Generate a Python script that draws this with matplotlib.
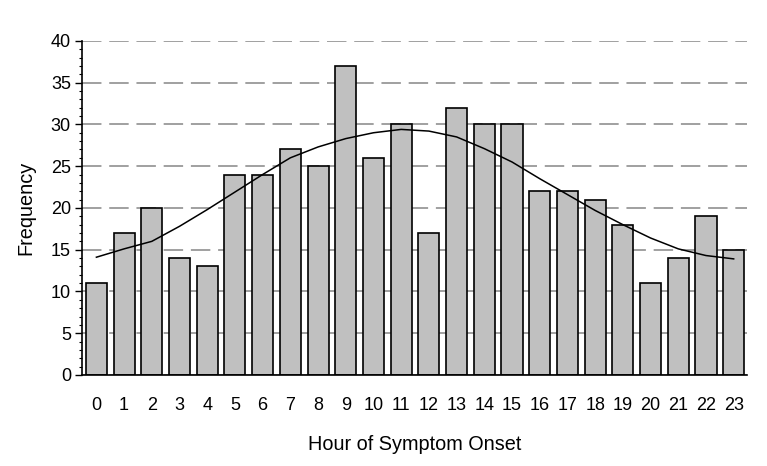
import matplotlib
matplotlib.use("Agg")
import matplotlib.pyplot as plt
from matplotlib.ticker import MultipleLocator

hours = list(range(24))
hour_labels = [str(h) for h in hours]
frequency = [11, 17, 20, 14, 13, 24, 24, 27, 25, 37, 26, 30,
             17, 32, 30, 30, 22, 22, 21, 18, 11, 14, 19, 15]
fitted = [14.1, 15.1, 16.0, 17.8, 19.8, 21.9, 24.0, 26.0, 27.3, 28.3, 29.0, 29.4,
          29.2, 28.5, 27.1, 25.5, 23.5, 21.6, 19.7, 18.0, 16.4, 15.1, 14.3, 13.9]

plt.rcParams['font.family'] = ['Liberation Sans', 'DejaVu Sans']

fig = plt.figure(figsize=(7.67, 4.66), dpi=100)
ax = fig.add_axes([0.1069, 0.1953, 0.867, 0.717])

ax.set_axisbelow(True)
ax.yaxis.grid(True, which='major', color='#a0a0a0', linestyle=(0, (10, 4)), linewidth=1.4)
ax.bar(hours, frequency, width=0.76, color='#c0c0c0', edgecolor='black', linewidth=1.2, zorder=2)
ax.plot(hours, fitted, color='black', linewidth=1.1, zorder=3)

ax.set_xlim(-0.52, 23.48)
ax.set_ylim(0, 40)
ax.set_xticks(hours)
ax.set_xticklabels(hour_labels)
ax.yaxis.set_major_locator(MultipleLocator(5))
ax.yaxis.set_minor_locator(MultipleLocator(1))
ax.tick_params(axis='x', length=0, pad=16, labelsize=13)
ax.tick_params(axis='y', which='major', length=5, width=1, labelsize=13, pad=3)
ax.tick_params(axis='y', which='minor', length=2.5, width=0.8)

for s in ['top', 'right']:
    ax.spines[s].set_visible(False)
ax.spines['left'].set_linewidth(1.2)
ax.spines['bottom'].set_linewidth(1.2)

ax.set_xlabel('Hour of Symptom Onset', fontsize=14.3, labelpad=15)
ax.set_ylabel('Frequency', fontsize=14.3, labelpad=11)

fig.savefig('out.png', dpi=100)
